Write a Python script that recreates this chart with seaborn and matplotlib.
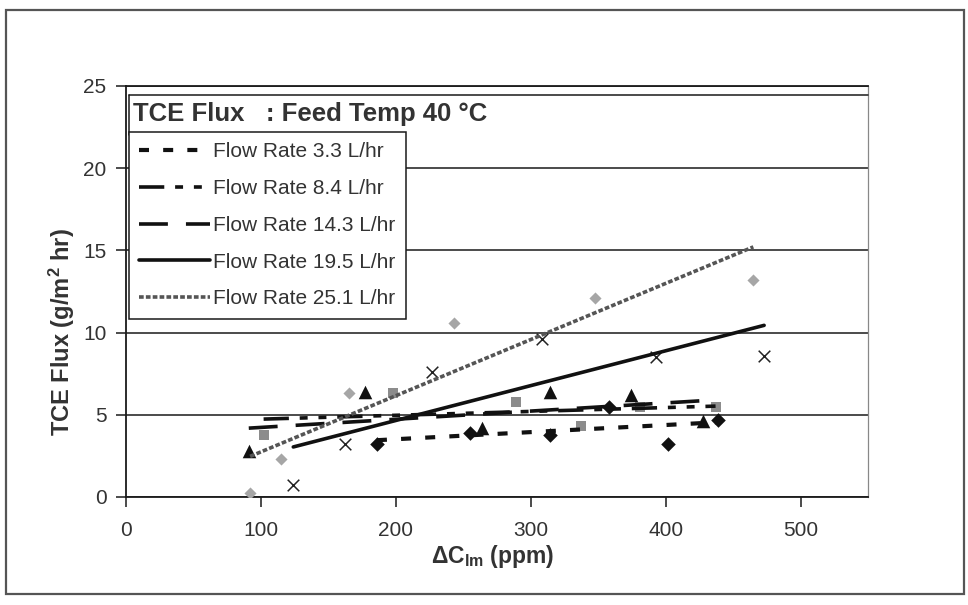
import matplotlib
matplotlib.use("Agg")
import matplotlib.pyplot as plt
import seaborn as sns
import numpy as np
from matplotlib.lines import Line2D
from matplotlib.patches import Rectangle

# ---------------- data ----------------
series_labels = ["Flow Rate 3.3 L/hr", "Flow Rate 8.4 L/hr", "Flow Rate 14.3 L/hr",
                 "Flow Rate 19.5 L/hr", "Flow Rate 25.1 L/hr"]

conc_33 = [186, 255, 314, 358, 402, 439]
flux_33 = [3.2, 3.9, 3.8, 5.5, 3.25, 4.7]

conc_84 = [102, 198, 289, 337, 381, 437]
flux_84 = [3.8, 6.3, 5.8, 4.3, 5.45, 5.45]

conc_143 = [91, 177, 264, 314, 374, 428]
flux_143 = [2.8, 6.4, 4.2, 6.4, 6.2, 4.6]

conc_195 = [124, 162, 227, 308, 393, 473]
flux_195 = [0.75, 3.2, 7.6, 9.6, 8.5, 8.6]

conc_251 = [92, 115, 165, 243, 348, 465]
flux_251 = [0.25, 2.3, 6.3, 10.6, 12.1, 13.2]

x_ticks = [0, 100, 200, 300, 400, 500]
y_ticks = [0, 5, 10, 15, 20, 25]

title_text = "TCE Flux   : Feed Temp 40 \u00b0C"
x_label = r"$\Delta$C$_{\mathbf{lm}}$ (ppm)"
y_label = r"TCE Flux (g/m$^\mathbf{2}$ hr)"

# ---------------- styling ----------------
sns.set_style("ticks")
plt.rcParams['font.family'] = ['Liberation Sans', 'DejaVu Sans']
plt.rcParams['mathtext.fontset'] = 'custom'
plt.rcParams['mathtext.rm'] = 'Liberation Sans:bold'
plt.rcParams['mathtext.bf'] = 'Liberation Sans:bold'
plt.rcParams['mathtext.default'] = 'bf'

W, H = 968, 605
fig = plt.figure(figsize=(W / 100, H / 100), dpi=100)
fig.patch.set_facecolor("white")

L, R, T, B = 126, 868, 86, 497
ax = fig.add_axes([L / W, 1 - B / H, (R - L) / W, (B - T) / H])

styles = [
    dict(marker="D", s=55, mc="#111111", lc="#111111", ls=(0, (2.4, 3.4)), lw=3.0, mlw=0),
    dict(marker="s", s=60, mc="#8c8c8c", lc="#111111", ls=(0, (7, 3, 2.2, 3, 2.2, 3)), lw=2.6, mlw=0),
    dict(marker="^", s=95, mc="#111111", lc="#111111", ls=(0, (8, 5)), lw=2.6, mlw=0),
    dict(marker="x", s=70, mc="#222222", lc="#111111", ls="-", lw=2.6, mlw=1.1),
    dict(marker="D", s=38, mc="#a6a6a6", lc="#555555", ls=(0, (1.3, 0.6)), lw=2.6, mlw=0),
]
xs = [conc_33, conc_84, conc_143, conc_195, conc_251]
ys = [flux_33, flux_84, flux_143, flux_195, flux_251]

for xv, yv, st in zip(xs, ys, styles):
    sns.regplot(x=np.array(xv), y=np.array(yv), ax=ax, ci=None, truncate=True,
                marker=st["marker"],
                scatter_kws=dict(s=st["s"], color=st["mc"], alpha=1,
                                 linewidths=st["mlw"], zorder=3),
                line_kws=dict(color=st["lc"], lw=st["lw"], ls=st["ls"], zorder=4))

ax.set_xlim(0, 550)
ax.set_ylim(0, 25)
ax.set_xticks(x_ticks)
ax.set_yticks(y_ticks)
ax.set_xlabel("")
ax.set_ylabel("")

ax.yaxis.grid(True, color="#1a1a1a", lw=1.1)
ax.xaxis.grid(False)
ax.set_axisbelow(True)
for sp in ["left", "bottom", "top"]:
    ax.spines[sp].set_visible(True)
    ax.spines[sp].set_color("#1a1a1a")
    ax.spines[sp].set_linewidth(1.3)
ax.spines["right"].set_visible(True)
ax.spines["right"].set_color("#888888")
ax.spines["right"].set_linewidth(0.9)

ax.tick_params(axis="x", direction="out", length=7, width=1.1, pad=10,
               labelsize=15, labelcolor="#333333", color="#1a1a1a")
ax.tick_params(axis="y", direction="out", length=7, width=1.1, pad=7,
               labelsize=15, labelcolor="#333333", color="#1a1a1a")

# axis labels (figure coordinates)
fig.text(62 / W, 1 - 332 / H, y_label, rotation=90, ha="center", va="center",
         fontsize=17, fontweight="bold", color="#333333")
fig.text(493 / W, 1 - 556 / H, x_label, ha="center", va="center",
         fontsize=16.5, fontweight="bold", color="#333333")

# title box lines
fig.add_artist(Line2D([129 / W, R / W], [1 - 95 / H, 1 - 95 / H],
                      transform=fig.transFigure, color="#1a1a1a", lw=1.1))
fig.add_artist(Line2D([129 / W, 129 / W], [1 - 95 / H, 1 - 135 / H],
                      transform=fig.transFigure, color="#1a1a1a", lw=1.1))
fig.text(133 / W, 1 - 114 / H, title_text, ha="left", va="center",
         fontsize=18.5, fontweight="bold", color="#333333")

# legend
handles = [Line2D([], [], color=st["lc"], lw=st["lw"], ls=st["ls"]) for st in styles]
leg = fig.legend(handles, series_labels, loc="upper left",
                 bbox_to_anchor=(129 / W, 1 - 132 / H), borderaxespad=0,
                 frameon=True, fancybox=False, framealpha=1, edgecolor="#1a1a1a",
                 fontsize=15, handlelength=3.4, handletextpad=0.15,
                 labelspacing=0.85, borderpad=0.5)
leg.get_frame().set_linewidth(1.1)
for t in leg.get_texts():
    t.set_color("#333333")

# outer chart frame
fig.add_artist(Rectangle((6 / W, 1 - 594 / H), (964 - 6) / W, (594 - 10) / H,
                         transform=fig.transFigure, fill=False, lw=1.6, ec="#555555"))

fig.savefig("out.png", dpi=100)
